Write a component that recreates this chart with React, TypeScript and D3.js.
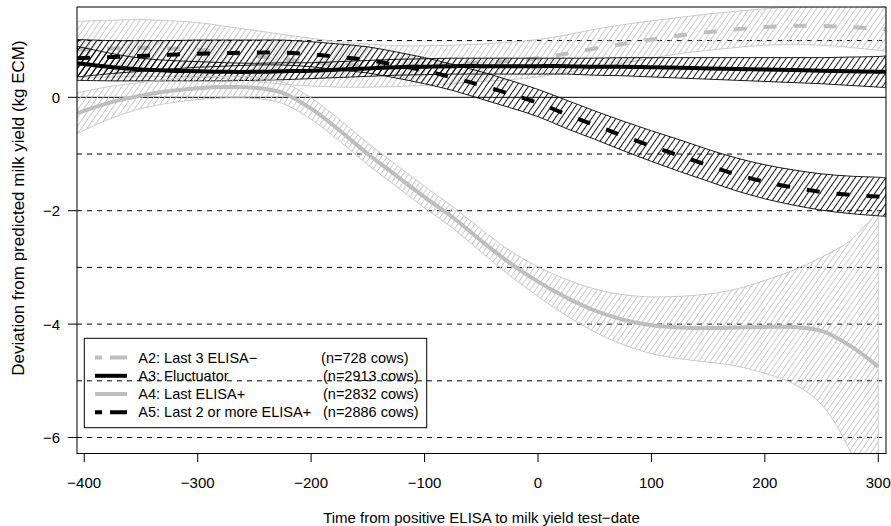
import React from "react";
import * as d3 from "d3";

// ---------- data ----------
const X_GRID = [-406.4, -375, -350, -325, -300, -275, -250, -225, -200, -175, -150, -125, -100, -75, -50, -25, 0, 25, 50, 75, 100, 125, 150, 175, 200, 225, 250, 275, 300, 306.8];
const A4_X = X_GRID.slice(0, 29);

const A2_FIT = [0.84, 0.86, 0.87, 0.86, 0.84, 0.79, 0.73, 0.67, 0.62, 0.58, 0.56, 0.55, 0.56, 0.58, 0.61, 0.64, 0.69, 0.77, 0.86, 0.94, 1.02, 1.09, 1.15, 1.2, 1.24, 1.26, 1.26, 1.24, 1.21, 1.2];
const A2_HW = [0.5, 0.5, 0.5, 0.49, 0.48, 0.46, 0.45, 0.44, 0.42, 0.4, 0.38, 0.36, 0.35, 0.34, 0.33, 0.33, 0.33, 0.33, 0.34, 0.34, 0.33, 0.32, 0.32, 0.32, 0.32, 0.33, 0.34, 0.36, 0.38, 0.39];

const A3_FIT = [0.6, 0.53, 0.49, 0.47, 0.46, 0.45, 0.45, 0.46, 0.47, 0.49, 0.51, 0.53, 0.54, 0.55, 0.55, 0.55, 0.55, 0.55, 0.54, 0.54, 0.53, 0.52, 0.51, 0.5, 0.49, 0.48, 0.47, 0.46, 0.45, 0.45];
const A3_HW = [0.3, 0.24, 0.2, 0.18, 0.17, 0.16, 0.15, 0.15, 0.14, 0.14, 0.14, 0.14, 0.14, 0.14, 0.14, 0.14, 0.14, 0.14, 0.15, 0.16, 0.17, 0.18, 0.19, 0.2, 0.21, 0.22, 0.23, 0.25, 0.27, 0.28];

const A4_FIT = [-0.28, -0.08, 0.03, 0.11, 0.16, 0.18, 0.17, 0.08, -0.2, -0.58, -1.0, -1.38, -1.76, -2.12, -2.53, -2.92, -3.25, -3.53, -3.76, -3.92, -4.02, -4.06, -4.07, -4.06, -4.05, -4.05, -4.12, -4.38, -4.75];
const A4_HW = [0.36, 0.28, 0.23, 0.21, 0.2, 0.19, 0.19, 0.19, 0.19, 0.19, 0.19, 0.19, 0.19, 0.19, 0.2, 0.22, 0.26, 0.32, 0.38, 0.44, 0.5, 0.55, 0.6, 0.68, 0.82, 1.0, 1.3, 1.85, 2.75];

const A5_FIT = [0.69, 0.71, 0.73, 0.75, 0.77, 0.78, 0.79, 0.79, 0.76, 0.71, 0.66, 0.57, 0.47, 0.35, 0.21, 0.06, -0.1, -0.3, -0.49, -0.68, -0.86, -1.03, -1.2, -1.36, -1.49, -1.59, -1.67, -1.72, -1.75, -1.76];
const A5_HW = [0.33, 0.29, 0.27, 0.25, 0.24, 0.23, 0.22, 0.22, 0.22, 0.23, 0.23, 0.23, 0.23, 0.23, 0.24, 0.24, 0.24, 0.25, 0.25, 0.26, 0.27, 0.28, 0.28, 0.29, 0.3, 0.31, 0.32, 0.33, 0.34, 0.34];

const X_TICKS = [-400, -300, -200, -100, 0, 100, 200, 300];
const Y_TICKS = [0, -2, -4, -6];
const DASHED_REFS = [1, -1, -2, -3, -4, -5, -6];

const LEGEND_LABELS = ["A2: Last 3 ELISA\u2212", "A3: Fluctuator", "A4: Last ELISA+", "A5: Last 2 or more ELISA+"];
const LEGEND_COUNTS = ["(n=728 cows)", "(n=2913 cows)", "(n=2832 cows)", "(n=2886 cows)"];

// ---------- layout ----------
const W = 891;
const H = 526;
const PL = 77, PR = 886, PT = 7, PB = 453.5;
const FONT = "'Liberation Sans', Arial, Helvetica, sans-serif";
const GRAY_LINE = "#bebebe";
const GRAY_HATCH = "#c4c4c4";

type Pt = { x: number; fit: number; hw: number };

const mk = (xs: number[], fit: number[], hw: number[]): Pt[] =>
  xs.map((x, i) => ({ x, fit: fit[i], hw: hw[i] }));

const SERIES = [
  { key: "A2", data: mk(X_GRID, A2_FIT, A2_HW), color: GRAY_LINE, dash: "13 17", hatch: "hatchGray", border: GRAY_HATCH },
  { key: "A3", data: mk(X_GRID, A3_FIT, A3_HW), color: "#000", dash: null, hatch: "hatchBlack", border: "#000" },
  { key: "A4", data: mk(A4_X, A4_FIT, A4_HW), color: GRAY_LINE, dash: null, hatch: "hatchGray", border: GRAY_HATCH },
  { key: "A5", data: mk(X_GRID, A5_FIT, A5_HW), color: "#000", dash: "13 17", hatch: "hatchBlack", border: "#000" },
];

export default function App() {
  const x = d3.scaleLinear().domain([-406.4, 306.8]).range([PL, PR]);
  const y = d3.scaleLinear().domain([-6.282, 1.593]).range([PB, PT]);
  const curve = d3.curveCatmullRom.alpha(0.5);
  const line = d3.line<Pt>().x((d) => x(d.x)).y((d) => y(d.fit)).curve(curve);
  const area = d3
    .area<Pt>()
    .x((d) => x(d.x))
    .y0((d) => y(d.fit - d.hw))
    .y1((d) => y(d.fit + d.hw))
    .curve(curve);

  const legendY0 = 357.6;
  const legendStep = 18.2;
  const legendSym = [
    { color: GRAY_LINE, dash: "7 8 17 40" },
    { color: "#000", dash: null },
    { color: GRAY_LINE, dash: null },
    { color: "#000", dash: "7 8 17 40" },
  ];
  const countAnchorX = [408.5, 418.5, 418.5, 418.5];

  return (
    <svg
      width={W}
      height={H}
      viewBox={`0 0 ${W} ${H}`}
      style={{ position: "absolute", left: 0, top: 0, background: "#fff" }}
      fontFamily={FONT}
    >
      <defs>
        <clipPath id="plotClip">
          <rect x={PL} y={PT} width={PR - PL} height={PB - PT} />
        </clipPath>
        <pattern id="hatchBlack" patternUnits="userSpaceOnUse" width={5} height={5} patternTransform="rotate(35)">
          <line x1={2.5} y1={-1} x2={2.5} y2={6} stroke="#000" strokeWidth={0.9} />
        </pattern>
        <pattern id="hatchGray" patternUnits="userSpaceOnUse" width={4.6} height={5} patternTransform="rotate(35)">
          <line x1={2.3} y1={-1} x2={2.3} y2={6} stroke={GRAY_HATCH} strokeWidth={0.9} />
        </pattern>
      </defs>

      <rect x={0} y={0} width={W} height={H} fill="#fff" />

      {/* reference lines */}
      <g clipPath="url(#plotClip)">
        {DASHED_REFS.map((v) => (
          <line key={v} x1={PL} x2={PR} y1={y(v)} y2={y(v)} stroke="#000" strokeWidth={1} strokeDasharray="5 5" />
        ))}
        <line x1={PL} x2={PR} y1={y(0)} y2={y(0)} stroke="#000" strokeWidth={1} />
      </g>

      {/* bands and fitted lines */}
      <g clipPath="url(#plotClip)">
        {SERIES.map((s) => (
          <g key={s.key}>
            <path d={area(s.data) || ""} fill={`url(#${s.hatch})`} stroke={s.border} strokeWidth={0.9} />
            <path
              d={line(s.data) || ""}
              fill="none"
              stroke={s.color}
              strokeWidth={4}
              strokeDasharray={s.dash || undefined}
              strokeLinecap="butt"
            />
          </g>
        ))}
      </g>

      {/* box */}
      <rect x={PL} y={PT} width={PR - PL} height={PB - PT} fill="none" stroke="#000" strokeWidth={1} />

      {/* x axis */}
      {X_TICKS.map((t) => (
        <g key={t}>
          <line x1={x(t)} x2={x(t)} y1={PB} y2={PB + 8.5} stroke="#000" strokeWidth={1} />
          <text x={x(t)} y={482} textAnchor="middle" dominantBaseline="central" fontSize={15}>
            {t < 0 ? `\u2212${Math.abs(t)}` : `${t}`}
          </text>
        </g>
      ))}

      {/* y axis */}
      {Y_TICKS.map((t) => (
        <g key={t}>
          <line x1={PL - 9} x2={PL} y1={y(t)} y2={y(t)} stroke="#000" strokeWidth={1} />
          <text x={60} y={y(t)} textAnchor="end" dominantBaseline="central" fontSize={15}>
            {t < 0 ? `\u2212${Math.abs(t)}` : `${t}`}
          </text>
        </g>
      ))}

      {/* axis titles */}
      <text x={481.5} y={517} textAnchor="middle" dominantBaseline="central" fontSize={15}>
        Time from positive ELISA to milk yield test{"\u2212"}date
      </text>
      <text
        transform={`translate(18,208) rotate(-90)`}
        textAnchor="middle"
        dominantBaseline="central"
        fontSize={17}
      >
        Deviation from predicted milk yield (kg ECM)
      </text>

      {/* legend */}
      <rect x={84.3} y={338.3} width={342.4} height={89.4} fill="none" stroke="#000" strokeWidth={1} />
      {LEGEND_LABELS.map((lab, i) => {
        const ly = legendY0 + i * legendStep;
        const sym = legendSym[i];
        return (
          <g key={lab}>
            <line
              x1={95}
              x2={127}
              y1={ly}
              y2={ly}
              stroke={sym.color}
              strokeWidth={4}
              strokeDasharray={sym.dash || undefined}
            />
            <text x={138.3} y={ly} dominantBaseline="central" fontSize={14.5}>
              {lab}
            </text>
            <text x={countAnchorX[i]} y={ly} textAnchor="end" dominantBaseline="central" fontSize={14.5}>
              {LEGEND_COUNTS[i]}
            </text>
          </g>
        );
      })}
    </svg>
  );
}
